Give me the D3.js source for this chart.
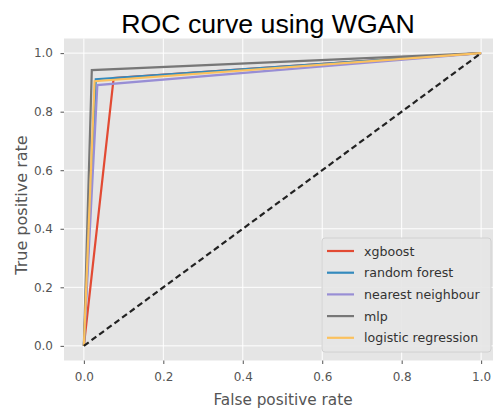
<!DOCTYPE html>
<html><head><meta charset="utf-8">
<script src="https://cdn.jsdelivr.net/npm/d3@7"></script>
<style>body{margin:0;background:#fff}</style>
</head><body>
<svg id="c" width="493" height="410"></svg>
<script>
const seriesNames = ["xgboost","random forest","nearest neighbour","mlp","logistic regression"];
const seriesColors = ["#E24A33","#348ABD","#988ED5","#777777","#FBC15E"];
const fprValues = [[0,0.075,1],[0,0.03,1],[0,0.034,1],[0,0.02,1],[0,0.027,1]];
const tprValues = [[0,0.915,1],[0,0.911,1],[0,0.891,1],[0,0.942,1],[0,0.904,1]];
const tickValues = [0,0.2,0.4,0.6,0.8,1.0];
const title = "ROC curve using WGAN";

const svg = d3.select("#c");
const x = d3.scaleLinear().domain([-0.05,1.05]).range([64,501]);
const y = d3.scaleLinear().domain([-0.05,1.05]).range([360.5,38.5]);

svg.append("rect").attr("x",x(-0.05)).attr("y",y(1.05)).attr("width",x(1.05)-x(-0.05)).attr("height",y(-0.05)-y(1.05)).attr("fill","#E5E5E5");

const g = svg.append("g");
tickValues.forEach(t=>{
  g.append("line").attr("x1",x(t)).attr("x2",x(t)).attr("y1",y(-0.05)).attr("y2",y(1.05)).attr("stroke","#fff").attr("stroke-width",1);
  g.append("line").attr("y1",y(t)).attr("y2",y(t)).attr("x1",x(-0.05)).attr("x2",x(1.05)).attr("stroke","#fff").attr("stroke-width",1);
});

const xAxis = svg.append("g").attr("transform",`translate(0,${y(-0.05)})`)
  .call(d3.axisBottom(x).tickValues(tickValues).tickFormat(d3.format(".1f")).tickSize(3.5).tickPadding(8));
const yAxis = svg.append("g").attr("transform",`translate(${x(-0.05)},0)`)
  .call(d3.axisLeft(y).tickValues(tickValues).tickFormat(d3.format(".1f")).tickSize(3.5).tickPadding(7.5));
[xAxis,yAxis].forEach(a=>{
  a.select(".domain").remove();
  a.selectAll(".tick line").attr("stroke","#555");
  a.selectAll(".tick text").attr("fill","#555").style("font-family","DejaVu Sans").style("font-size","12px");
});

const line = d3.line().x(d=>x(d[0])).y(d=>y(d[1]));
seriesNames.forEach((n,i)=>{
  const pts = fprValues[i].map((f,j)=>[f,tprValues[i][j]]);
  svg.append("path").attr("d",line(pts)).attr("fill","none").attr("stroke",seriesColors[i]).attr("stroke-width",2.2);
});
svg.append("path").attr("d",line([[0,0],[1,1]])).attr("fill","none").attr("stroke","#222").attr("stroke-width",2.2).attr("stroke-dasharray","6,3.5");

// legend
const lg = svg.append("g");
lg.append("rect").attr("x",322).attr("y",238).attr("width",169).attr("height",114).attr("rx",3)
  .attr("fill","#E5E5E5").attr("stroke","#CCCCCC").attr("stroke-width",0.8).attr("fill-opacity",0.9);
seriesNames.forEach((n,i)=>{
  const yy = 251 + i*21.7;
  lg.append("line").attr("x1",327).attr("x2",354).attr("y1",yy).attr("y2",yy).attr("stroke",seriesColors[i]).attr("stroke-width",2.2);
  lg.append("text").attr("x",364).attr("y",yy+4.5).text(n).attr("fill","#333").style("font-family","DejaVu Sans").style("font-size","12.6px");
});

svg.append("text").attr("x",268).attr("y",33).attr("text-anchor","middle").text(title)
  .style("font-family","Liberation Sans").style("font-size","26.7px").attr("fill","#000");
svg.append("text").attr("x",283).attr("y",404.5).attr("text-anchor","middle").text("False positive rate")
  .style("font-family","DejaVu Sans").style("font-size","15.3px").attr("fill","#555");
svg.append("text").attr("transform","translate(26.5,205) rotate(-90)").attr("text-anchor","middle").text("True positive rate")
  .style("font-family","DejaVu Sans").style("font-size","16px").attr("fill","#555");
</script>
</body></html>
